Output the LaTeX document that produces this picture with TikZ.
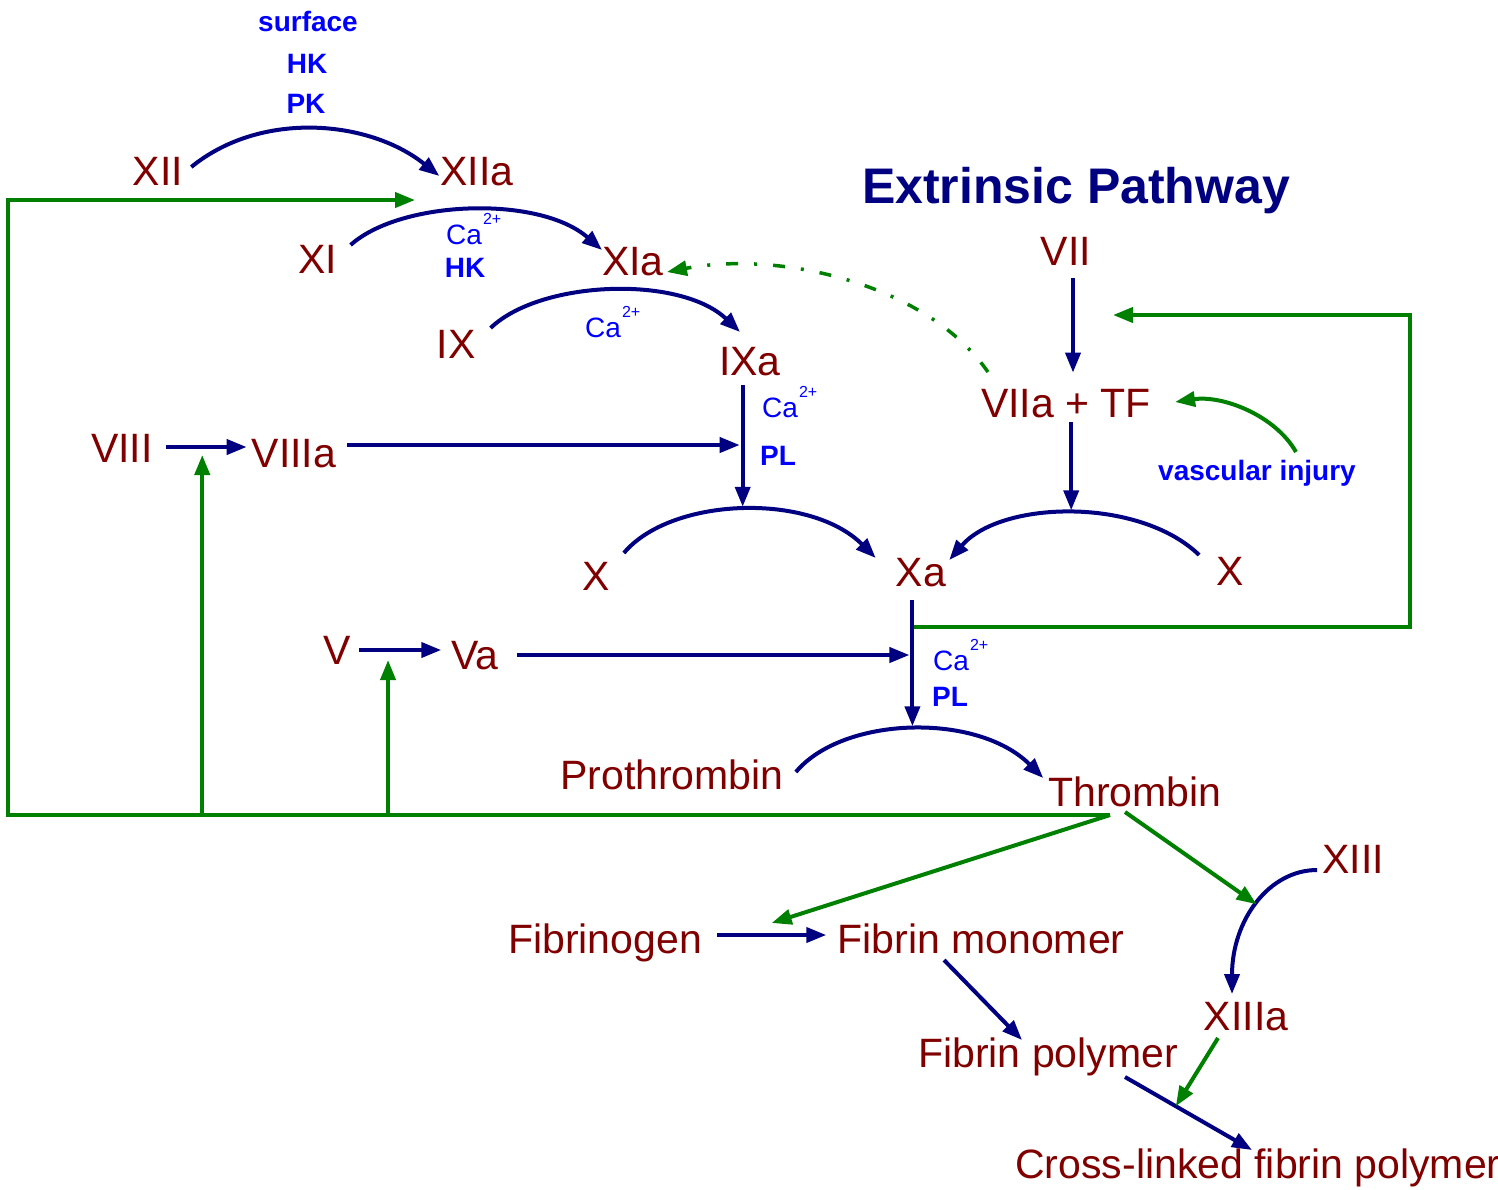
\documentclass[tikz,border=0pt]{standalone}
\usepackage{fontspec}
\setmainfont{Liberation Sans}
\newfontfamily\titlefont{Liberation Sans}
\usetikzlibrary{arrows.meta,calc}
\definecolor{factor}{HTML}{800000}
\definecolor{enzyme}{HTML}{000080}
\definecolor{cofactor}{HTML}{0000FF}
\definecolor{feedback}{HTML}{008000}
\newcommand{\caion}{Ca\kern1pt\raisebox{20pt}{\fontsize{16}{16}\selectfont 2+}}
\begin{document}
\begin{tikzpicture}[x=1pt,y=-1pt,
  fac/.style={text=factor,font=\fontsize{41}{44}\selectfont,inner sep=3pt,anchor=base},
  lab/.style={text=cofactor,font=\fontsize{28}{30}\selectfont\bfseries,inner sep=0pt,anchor=base},
  caLab/.style={text=cofactor,font=\fontsize{28}{30}\selectfont,inner sep=0pt,anchor=base west},
  ttl/.style={text=enzyme,font=\fontsize{50}{54}\selectfont\titlefont\bfseries,inner sep=0pt,anchor=base},
  conv/.style={draw=enzyme,line width=4pt,-{Triangle[length=20pt,width=15pt]}},
  fb/.style={draw=feedback,line width=4pt,-{Triangle[length=20pt,width=15pt]}},
]
\fill[white] (0,0) rectangle (1498,1189);
\useasboundingbox (0,0) rectangle (1498,1189);

% factors
\node[fac] (xii)   at (158,185)  {XII};
\node[fac] (xiia)  at (477,185)  {XIIa};
\node[fac] (xi)    at (318,273)  {XI};
\node[fac] (xia)   at (633,275)  {XIa};
\node[fac] (ix)    at (456,358)  {IX};
\node[fac] (ixa)   at (750,375)  {IXa};
\node[fac] (viii)  at (122,462)  {VIII};
\node[fac] (viiia) at (294,467)  {VIIIa};
\node[fac] (xl)    at (596,590)  {X};
\node[fac] (xa)    at (921,586)  {Xa};
\node[fac] (xr)    at (1230,585) {X};
\node[fac] (v)     at (337,664)  {V};
\node[fac] (va)    at (475,669)  {Va};
\node[fac] (pro)   at (672,789)  {Prothrombin};
\node[fac] (thr)   at (1135,806) {Thrombin};
\node[fac] (xiii)  at (1353,873) {XIII};
\node[fac] (xiiia) at (1246,1030) {XIIIa};
\node[fac] (fg)    at (605,953)  {Fibrinogen};
\node[fac] (fm)    at (981,953)  {Fibrin monomer};
\node[fac] (fp)    at (1048,1067) {Fibrin polymer};
\node[fac] (cl)    at (1258,1178) {Cross-linked fibrin polymer};
\node[fac] (vii)   at (1066,265) {VII};
\node[fac] (vtf)   at (1066,417) {VIIa + TF};
\node[ttl] (title) at (1076,203) {Extrinsic Pathway};

% cofactor labels
\node[lab] (sf)  at (308,31)  {surface};
\node[lab] (hk1) at (307,73)  {HK};
\node[lab] (pk)  at (306,113) {PK};
\node[caLab] (ca1) at (446,244) {\caion};
\node[lab] (hk2) at (465,277) {HK};
\node[caLab] (ca2) at (585,337) {\caion};
\node[caLab] (ca3) at (762,417) {\caion};
\node[lab,anchor=base west] (pl1) at (760,465) {PL};
\node[caLab] (ca4) at (933,670) {\caion};
\node[lab,anchor=base west] (pl2) at (932,706) {PL};
\node[lab] (vi) at (1257,480) {vascular injury};

% activation arcs
\draw[conv] ([xshift=5pt,yshift=18pt]xii.base east) .. controls +(70,-57) and +(-70,-56) .. ([xshift=2pt,yshift=9pt]xiia.base west);
\draw[conv] ([xshift=10pt,yshift=28pt]xi.base east) .. controls +(50,-45) and +(-63,-55) .. ([xshift=3pt,yshift=25pt]xia.base west) coordinate[pos=0.3] (c11);
\draw[conv] ([xshift=12pt,yshift=30pt]ix.base east) .. controls +(50,-48) and +(-60,-57) .. ([xshift=-10pt,yshift=43pt]ixa.base);
\draw[conv] ([xshift=11pt,yshift=37pt]xl.base east) .. controls +(47,-56) and +(-66,-66) .. ([xshift=-17pt,yshift=28pt]xa.base west) coordinate[pos=0.5] (pkL);
\draw[conv] ([xshift=-14pt,yshift=30pt]xr.base west) .. controls +(-60,-58) and +(52,-60) .. ([yshift=26pt]xa.base east) coordinate[pos=0.5] (pkR);
\draw[conv] ([xshift=9pt,yshift=17pt]pro.base east) .. controls +(47,-56) and +(-66,-66) .. ([xshift=-2pt,yshift=28pt]thr.base west) coordinate[pos=0.5] (pkP);
\draw[conv] ([xshift=-2pt,yshift=3pt]xiii.base west) .. controls +(-48,0) and +(0,-74) .. ([xshift=-14pt,yshift=36pt]xiiia.base) coordinate[pos=0.5] (c13);

% cofactor activation and fibrin formation
\draw[conv] ([xshift=10pt,yshift=15pt]viii.base east) -- ([xshift=-2pt,yshift=20pt]viiia.base west) coordinate[pos=0.45] (c8);
\draw[conv] ([xshift=5pt,yshift=14pt]v.base east) -- ([xshift=-7pt,yshift=19pt]va.base west) coordinate[pos=0.354] (c5);
\draw[conv] ([xshift=12pt,yshift=18pt]fg.base east) -- ([xshift=-8pt,yshift=18pt]fm.base west) coordinate[pos=0.5] (cf);
\draw[conv] ([xshift=-37pt,yshift=-7pt]fm.base) -- ([xshift=-26pt,yshift=27pt]fp.base);
\draw[conv] ([xshift=77pt,yshift=-10pt]fp.base) -- ([xshift=-6pt,yshift=28pt]cl.base) coordinate[pos=0.4] (cx);

% thrombin feedback
\coordinate (hub) at ([xshift=-25pt,yshift=-9pt]thr.base);
\coordinate (loopTL) at (8,200);
\draw[fb] (hub) -| (loopTL) -- (c11 |- loopTL);
\draw[fb] (c8 |- hub) -- ([yshift=-8pt]c8);
\draw[fb] (c5 |- hub) -- ([yshift=-10pt]c5);
\draw[fb] (hub) -- ([yshift=12pt]cf);
\draw[fb] ([xshift=-10pt,yshift=-6pt]thr.base) -- (c13);
\draw[fb] ([xshift=-28pt,yshift=-8pt]xiiia.base) -- (cx);

% Xa feedback to VII
\coordinate (xaJ) at ([yshift=-41pt]xa.base);
\coordinate (loopR) at (1410,315);
\coordinate (viiIn) at ([xshift=47pt,yshift=-50pt]vii.base);
\draw[fb] (xaJ -| pkP) -| (loopR) -- (viiIn);

% tissue factor exposure and VIIa acting on XI
\draw[fb] ([xshift=39pt,yshift=28pt]vi.base) .. controls +(-21,-37) and +(47,-7) .. ([xshift=21pt,yshift=15pt]vtf.base east);
\draw[fb, line width=3.5pt, dash pattern=on 12pt off 16pt on 3pt off 16pt] ([xshift=10pt,yshift=45pt]vtf.base west) .. controls +(-60,-87) and +(114,-22) .. ([yshift=3pt]xia.base east);

% complexes acting on X and prothrombin
\coordinate (ixaOut) at ([yshift=-10pt]ixa.base);
\draw[conv] (ixaOut -| pkL) -- ([yshift=3pt]pkL);
\coordinate (viiiaOut) at ([xshift=8pt,yshift=22pt]viiia.base east);
\draw[conv, shorten >=3pt] (viiiaOut) -- (viiiaOut -| pkL);
\draw[conv] ([xshift=7pt,yshift=-13pt]vii.base) -- ([xshift=7pt,yshift=13pt]vtf.north);
\coordinate (vtfOut) at ([yshift=-5pt]vtf.base);
\draw[conv] (vtfOut -| pkR) -- ([yshift=3pt]pkR);
\coordinate (xaOut) at ([yshift=-14pt]xa.base);
\draw[conv] (xaOut -| pkP) -- ([yshift=3pt]pkP);
\coordinate (vaOut) at ([xshift=15pt,yshift=14pt]va.base east);
\draw[conv, shorten >=3pt] (vaOut) -- (vaOut -| pkP);
\end{tikzpicture}
\end{document}
